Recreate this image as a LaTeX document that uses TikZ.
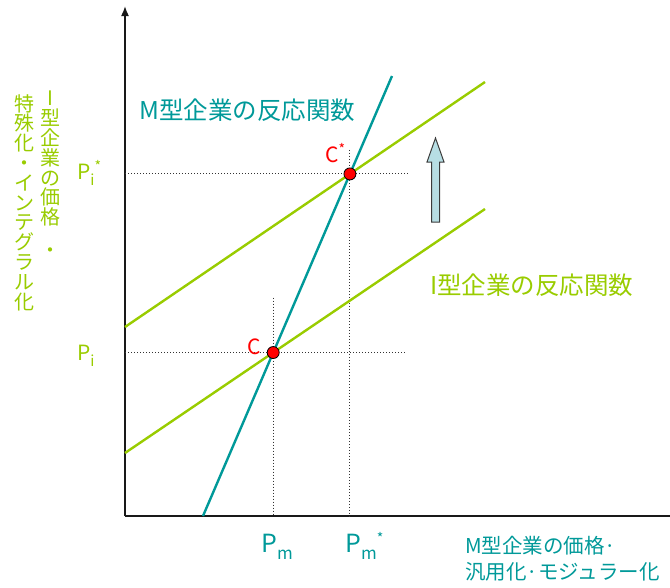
\documentclass[tikz,border=0pt]{standalone}
\usepackage{fontspec}
\setmainfont{Noto Sans CJK JP}
\usetikzlibrary{arrows.meta}
\definecolor{mteal}{RGB}{0,153,153}
\definecolor{igreen}{RGB}{153,204,0}
\definecolor{arrowfill}{RGB}{183,222,228}
\definecolor{arrowedge}{RGB}{60,60,60}
\newcommand\lowsub[2]{\raisebox{-0.3em}{\fontsize{#1}{#1}\selectfont #2}}
\newcommand\highsup[2]{\raisebox{0.35em}{\fontsize{#1}{#1}\selectfont #2}}
\begin{document}
\begin{tikzpicture}[x=1pt,y=-1pt,
  axisline/.style={line width=1.6pt,black!90},
  mline/.style={line width=2.4pt,mteal},
  gline/.style={line width=2.4pt,igreen},
  dotline/.style={line width=0.9pt,black!80,dash pattern=on 1pt off 2pt},
  eqdot/.style={circle,fill=red,draw=black,line width=0.8pt,inner sep=0pt,minimum size=12pt},
  mtext/.style={text=mteal,inner sep=0pt},
  gtext/.style={text=igreen,inner sep=0pt},
  rtext/.style={text=red,inner sep=0pt,font=\fontsize{21}{21}\selectfont}]
\useasboundingbox (0,0) rectangle (670,587);
% axes
\coordinate (O) at (125,516);
\coordinate (xend) at (670,516);
\coordinate (ytop) at (125,6);
\draw[axisline] (O) -- (xend);
\draw[axisline,-{Latex[length=10pt,width=8pt]}] (O) -- (ytop);
% lines
\coordinate (m1) at (203,516);
\coordinate (m2) at (392,76);
\coordinate (g1a) at (125,453);
\coordinate (g1b) at (485,209);
\coordinate (g2a) at (125,327);
\coordinate (g2b) at (485,82);
\coordinate (C) at (intersection of m1--m2 and g1a--g1b);
\coordinate (Cs) at (intersection of m1--m2 and g2a--g2b);
% dotted guides
\draw[dotline] (O |- C) -- ([xshift=280pt]O |- C);
\draw[dotline] ([yshift=55pt]C) -- (C |- O);
\draw[dotline] (O |- Cs) -- ([xshift=283pt]O |- Cs);
\draw[dotline] ([yshift=24pt]Cs) -- (Cs |- O);
\draw[gline] (g1a) -- (g1b);
\draw[gline] (g2a) -- (g2b);
\draw[mline] (m1) -- (m2);
\node[eqdot] (c) at (C) {};
\node[eqdot] (cs) at (Cs) {};
% block arrow
\draw[line width=1pt,draw=arrowedge,fill=arrowfill]
  (431.5,222) -- (431.5,162) -- (427,162) -- (435.5,138) -- (444,162)
  -- (439.5,162) -- (439.5,222) -- cycle;
% labels
\node[rtext] (lc) at (254,347) {C};
\node[rtext,anchor=west] (lcs) at (325,153) {C\highsup{14}{*}};
\node[mtext,anchor=west,font=\fontsize{24.5}{24.5}\selectfont] (mlab) at (139,110) {M型企業の反応関数};
\node[gtext,anchor=west,font=\fontsize{24.5}{24.5}\selectfont] (ilab) at (430,285) {I型企業の反応関数};
\node[gtext,anchor=base west,font=\fontsize{21}{21}\selectfont] (pis) at (77,179) {P\lowsub{15}{i}\highsup{14}{*}};
\node[gtext,anchor=base west,font=\fontsize{21}{21}\selectfont] (pi) at (77,360) {P\lowsub{15}{i}};
\node[mtext,anchor=base west,font=\fontsize{25}{25}\selectfont] (pm) at (261,552) {P\lowsub{17}{m}};
\node[mtext,anchor=base west,font=\fontsize{25}{25}\selectfont] (pms) at (345,552) {P\lowsub{17}{m}\highsup{14}{*}};
\node[mtext,anchor=north west,align=left,font=\fontsize{20.5}{26}\selectfont] (xlab) at (465,536)
  {M型企業の価格·\\汎用化·モジュラー化};
\node[gtext,anchor=north,align=center,font=\fontsize{20}{19.8}\selectfont] (ylab1) at (50,91)
  {I\\型\\企\\業\\の\\価\\格\\[13pt]・};
\node[gtext,anchor=north,align=center,font=\fontsize{20}{19.8}\selectfont] (ylab2) at (24,94)
  {特\\殊\\化\\・\\イ\\ン\\テ\\グ\\ラ\\ル\\化};
\end{tikzpicture}
\end{document}
